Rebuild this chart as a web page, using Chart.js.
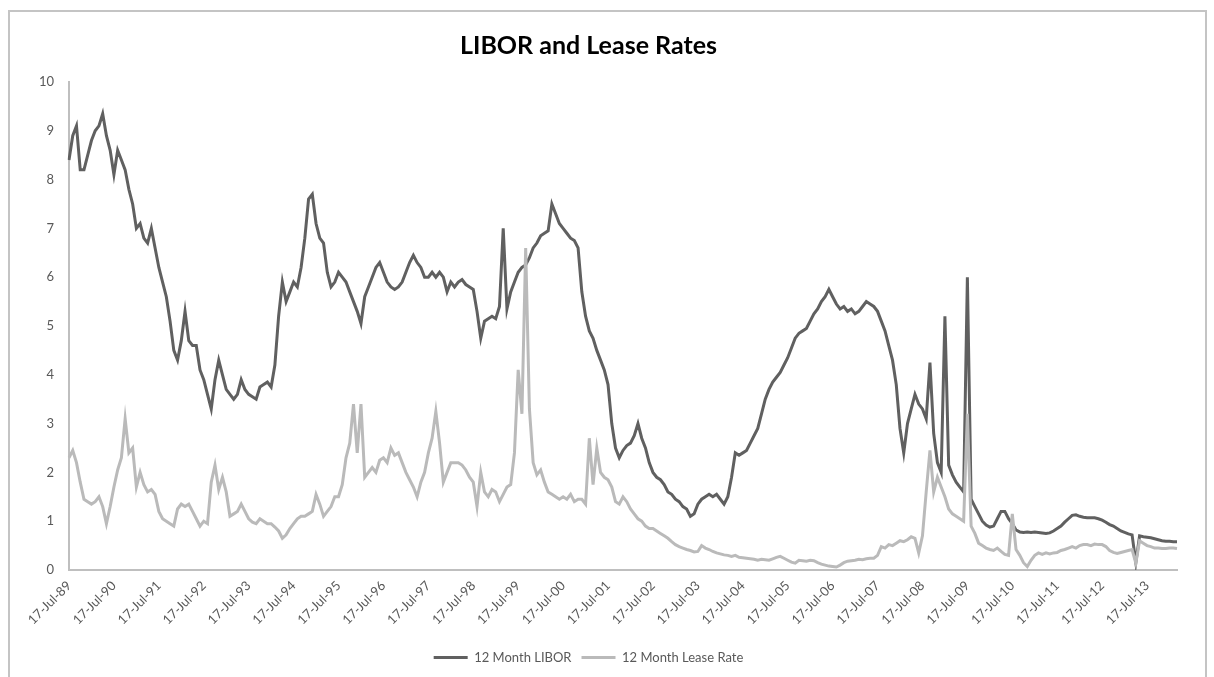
<!DOCTYPE html>
<html>
<head>
<meta charset="utf-8">
<title>LIBOR and Lease Rates</title>
<script src="https://cdn.jsdelivr.net/npm/chart.js@4.4.1/dist/chart.umd.min.js"></script>
<style>
  html, body { margin: 0; padding: 0; background: #fff; }
  #wrap { position: relative; width: 1214px; height: 677px; }
</style>
</head>
<body>
<div id="wrap"><canvas id="rateChart" width="1214" height="677"></canvas></div>
<script>
// monthly points, 17-Jul-89 .. 17-Mar-14
const startYear = 1989;
const monthNames = ['Jan', 'Feb', 'Mar', 'Apr', 'May', 'Jun', 'Jul', 'Aug', 'Sep', 'Oct', 'Nov', 'Dec'];
const tickMonth = 'Jul';

// 12 Month LIBOR (%), one row per year starting in July
const libor = [
  8.4, 8.9, 9.1, 8.2, 8.2, 8.5, 8.8, 9.0, 9.1, 9.35, 8.9, 8.6,        // 89-90
  8.1, 8.6, 8.4, 8.2, 7.8, 7.5, 7.0, 7.1, 6.8, 6.7, 7.0, 6.6,         // 90-91
  6.2, 5.9, 5.6, 5.1, 4.5, 4.3, 4.7, 5.3, 4.7, 4.6, 4.6, 4.1,         // 91-92
  3.9, 3.6, 3.3, 3.9, 4.3, 4.0, 3.7, 3.6, 3.5, 3.6, 3.9, 3.7,         // 92-93
  3.6, 3.55, 3.5, 3.75, 3.8, 3.85, 3.75, 4.2, 5.2, 5.9, 5.5, 5.7,     // 93-94
  5.9, 5.8, 6.2, 6.8, 7.6, 7.7, 7.1, 6.8, 6.7, 6.1, 5.8, 5.9,         // 94-95
  6.1, 6.0, 5.9, 5.7, 5.5, 5.3, 5.05, 5.6, 5.8, 6.0, 6.2, 6.3,        // 95-96
  6.1, 5.9, 5.8, 5.75, 5.8, 5.9, 6.1, 6.3, 6.45, 6.3, 6.2, 6.0,       // 96-97
  6.0, 6.1, 6.0, 6.1, 6.0, 5.7, 5.9, 5.8, 5.9, 5.95, 5.85, 5.8,       // 97-98
  5.75, 5.3, 4.75, 5.1, 5.15, 5.2, 5.15, 5.4, 7.0, 5.35, 5.7, 5.9,    // 98-99
  6.1, 6.2, 6.25, 6.4, 6.6, 6.7, 6.85, 6.9, 6.95, 7.5, 7.3, 7.1,      // 99-00
  7.0, 6.9, 6.8, 6.75, 6.6, 5.7, 5.2, 4.9, 4.75, 4.5, 4.3, 4.1,       // 00-01
  3.8, 3.0, 2.5, 2.3, 2.45, 2.55, 2.6, 2.75, 3.0, 2.7, 2.5, 2.2,      // 01-02
  2.0, 1.9, 1.85, 1.75, 1.6, 1.55, 1.45, 1.4, 1.3, 1.25, 1.1, 1.15,   // 02-03
  1.35, 1.45, 1.5, 1.55, 1.5, 1.55, 1.45, 1.35, 1.5, 1.9, 2.4, 2.35,  // 03-04
  2.4, 2.45, 2.6, 2.75, 2.9, 3.2, 3.5, 3.7, 3.85, 3.95, 4.05, 4.2,    // 04-05
  4.35, 4.55, 4.75, 4.85, 4.9, 4.95, 5.1, 5.25, 5.35, 5.5, 5.6, 5.75, // 05-06
  5.6, 5.45, 5.35, 5.4, 5.3, 5.35, 5.25, 5.3, 5.4, 5.5, 5.45, 5.4,    // 06-07
  5.3, 5.1, 4.9, 4.6, 4.3, 3.8, 2.9, 2.4, 3.0, 3.3, 3.6, 3.4,         // 07-08
  3.3, 3.1, 4.25, 2.8, 2.2, 2.0, 5.2, 2.15, 1.95, 1.8, 1.7, 1.6,      // 08-09
  6.0, 1.45, 1.3, 1.15, 1.0, 0.92, 0.88, 0.9, 1.05, 1.2, 1.2, 1.05,   // 09-10
  0.95, 0.82, 0.78, 0.77, 0.78, 0.77, 0.78, 0.77, 0.76, 0.75, 0.76, 0.8, // 10-11
  0.85, 0.9, 0.98, 1.05, 1.12, 1.13, 1.1, 1.08, 1.07, 1.07, 1.07, 1.05,  // 11-12
  1.02, 0.98, 0.93, 0.9, 0.85, 0.8, 0.77, 0.74, 0.72, 0.15, 0.7, 0.68,   // 12-13
  0.67, 0.66, 0.64, 0.62, 0.6, 0.59, 0.59, 0.58, 0.58                    // 13-14
];

// 12 Month Lease Rate (%)
const leaseRate = [
  2.3, 2.45, 2.2, 1.8, 1.45, 1.4, 1.35, 1.4, 1.5, 1.3, 0.95, 1.3,
  1.7, 2.05, 2.3, 3.1, 2.4, 2.5, 1.7, 2.0, 1.75, 1.6, 1.65, 1.55,
  1.2, 1.05, 1.0, 0.95, 0.9, 1.25, 1.35, 1.3, 1.35, 1.2, 1.05, 0.9,
  1.0, 0.95, 1.8, 2.15, 1.65, 1.9, 1.6, 1.1, 1.15, 1.2, 1.35, 1.2,
  1.05, 0.98, 0.95, 1.05, 1.0, 0.95, 0.95, 0.88, 0.8, 0.65, 0.72, 0.85,
  0.95, 1.05, 1.1, 1.1, 1.15, 1.2, 1.55, 1.35, 1.1, 1.2, 1.3, 1.5,
  1.5, 1.75, 2.3, 2.6, 3.4, 2.4, 3.4, 1.9, 2.0, 2.1, 2.0, 2.25,
  2.3, 2.2, 2.5, 2.35, 2.4, 2.2, 2.0, 1.85, 1.7, 1.5, 1.8, 2.0,
  2.4, 2.7, 3.25, 2.6, 1.8, 2.0, 2.2, 2.2, 2.2, 2.15, 2.05, 1.9,
  1.8, 1.3, 2.0, 1.6, 1.5, 1.65, 1.6, 1.4, 1.55, 1.7, 1.75, 2.4,
  4.1, 3.2, 6.6, 3.3, 2.2, 1.95, 2.05, 1.8, 1.6, 1.55, 1.5, 1.45,
  1.5, 1.45, 1.55, 1.4, 1.45, 1.45, 1.35, 2.7, 1.75, 2.5, 2.0, 1.9,
  1.85, 1.7, 1.4, 1.35, 1.5, 1.4, 1.25, 1.15, 1.05, 1.0, 0.9, 0.85,
  0.85, 0.8, 0.75, 0.7, 0.65, 0.58, 0.52, 0.48, 0.45, 0.42, 0.4, 0.37,
  0.38, 0.5, 0.45, 0.42, 0.38, 0.35, 0.33, 0.31, 0.3, 0.28, 0.3, 0.26,
  0.25, 0.24, 0.23, 0.22, 0.2, 0.22, 0.21, 0.2, 0.23, 0.26, 0.28, 0.24,
  0.2, 0.16, 0.14, 0.2, 0.19, 0.18, 0.2, 0.19, 0.15, 0.12, 0.1, 0.08,
  0.07, 0.06, 0.1, 0.15, 0.18, 0.19, 0.2, 0.22, 0.21, 0.23, 0.24, 0.24,
  0.3, 0.48, 0.45, 0.52, 0.5, 0.55, 0.6, 0.58, 0.62, 0.68, 0.65, 0.35,
  0.7, 1.6, 2.45, 1.6, 1.9, 1.7, 1.5, 1.25, 1.15, 1.1, 1.05, 1.0,
  3.2, 0.9, 0.75, 0.55, 0.5, 0.45, 0.42, 0.4, 0.45, 0.38, 0.32, 0.3,
  1.15, 0.42, 0.3, 0.15, 0.07, 0.2, 0.3, 0.35, 0.32, 0.35, 0.33, 0.35,
  0.36, 0.4, 0.42, 0.45, 0.48, 0.45, 0.5, 0.52, 0.52, 0.5, 0.53, 0.52,
  0.52, 0.48, 0.4, 0.36, 0.34, 0.36, 0.38, 0.4, 0.42, 0.14, 0.6, 0.55,
  0.5, 0.48, 0.45, 0.45, 0.44, 0.44, 0.45, 0.45, 0.44
];

const yTicks = [0, 1, 2, 3, 4, 5, 6, 7, 8, 9, 10];

// category labels: 17-Jul-89, 17-Aug-89, ...
const dateLabels = [];
for (let i = 0; i < libor.length; i++) {
  const m = (6 + i) % 12;
  const y = startYear + Math.floor((6 + i) / 12);
  dateLabels.push('17-' + monthNames[m] + '-' + String(y % 100).padStart(2, '0'));
}

// grey outer frame like the spreadsheet chart box
const framePlugin = {
  id: 'frame',
  beforeDraw(chart) {
    const c = chart.ctx;
    c.save();
    c.fillStyle = '#ffffff';
    c.fillRect(0, 0, chart.width, chart.height);
    c.strokeStyle = '#c4c4c4';
    c.lineWidth = 2;
    c.strokeRect(9, 11, 1197, 700);
    c.restore();
  }
};

const ctx = document.getElementById('rateChart').getContext('2d');
const rateChart = new Chart(ctx, {
  type: 'line',
  data: {
    labels: dateLabels,
    datasets: [
      {
        label: '12 Month Lease Rate',
        data: leaseRate,
        borderColor: '#bababa',
        backgroundColor: '#bababa',
        borderWidth: 3,
        pointRadius: 0,
        tension: 0
      },
      {
        label: '12 Month LIBOR',
        data: libor,
        borderColor: '#606060',
        backgroundColor: '#606060',
        borderWidth: 3,
        pointRadius: 0,
        tension: 0
      }
    ]
  },
  options: {
    responsive: false,
    animation: false,
    layout: { padding: { top: 19, right: 37, bottom: 3, left: 0 } },
    plugins: {
      title: {
        display: true,
        text: 'LIBOR and Lease Rates',
        color: '#000000',
        font: { family: 'Lato', size: 25, weight: 'bold' },
        padding: { top: 12, bottom: 21 }
      },
      legend: {
        position: 'bottom',
        reverse: true,
        labels: {
          usePointStyle: true,
          pointStyle: 'line',
          pointStyleWidth: 34,
          color: '#595959',
          font: { family: 'Lato', size: 13 },
          padding: 10
        }
      },
      tooltip: { enabled: false }
    },
    scales: {
      x: {
        type: 'category',
        offset: false,
        afterFit: (scale) => { scale.height = 71; },
        grid: { display: false, drawTicks: false },
        border: { display: true, color: '#bfbfbf', width: 2 },
        ticks: {
          autoSkip: false,
          minRotation: 45,
          maxRotation: 45,
          padding: 8,
          color: '#595959',
          font: { family: 'Lato', size: 13 },
          callback: function (value) {
            const lab = this.getLabelForValue(value);
            return lab.indexOf('-' + tickMonth + '-') > 0 ? lab : null;
          }
        }
      },
      y: {
        min: 0,
        max: 10,
        afterFit: (scale) => { scale.width = 69; },
        afterBuildTicks: (scale) => { scale.ticks = yTicks.map(v => ({ value: v })); },
        grid: { display: false, drawTicks: false },
        border: { display: true, color: '#bfbfbf', width: 2 },
        ticks: {
          padding: 15,
          color: '#595959',
          font: { family: 'Lato', size: 13 }
        }
      }
    }
  },
  plugins: [framePlugin]
});
</script>
</body>
</html>
